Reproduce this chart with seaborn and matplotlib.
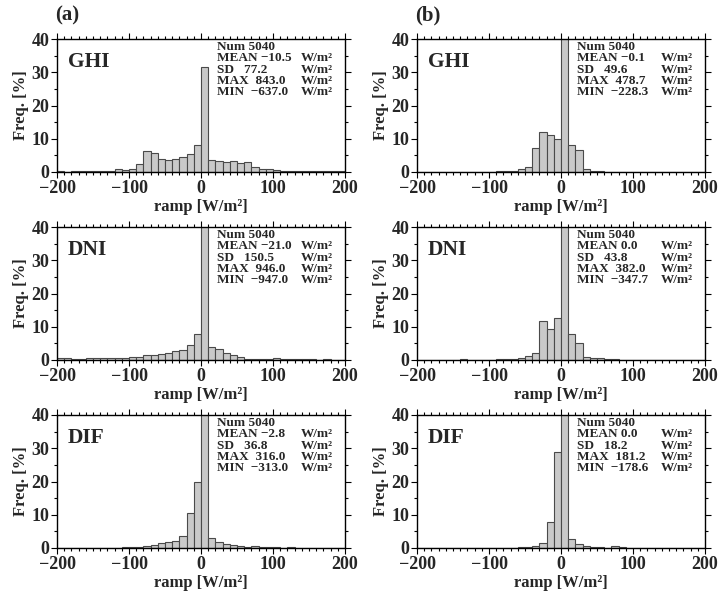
import numpy as np
import pandas as pd
import matplotlib
matplotlib.use("Agg")
import matplotlib.pyplot as plt
import seaborn as sns
from matplotlib.ticker import MultipleLocator

sns.set_theme(style="white")
plt.rcParams["font.family"] = ["Liberation Serif", "DejaVu Serif"]
plt.rcParams["font.weight"] = "bold"

# 10 W/m^2 bins from -200 to 200
bin_edges = list(range(-200, 201, 10))
bin_centers = [e + 5 for e in bin_edges[:-1]]

# Frequency [%] per bin, left to right
ghi_a = [0.4, 0.0, 0.3, 0.3, 0.3, 0.3, 0.3, 0.3, 0.8, 0.5,
         1.0, 2.3, 6.2, 5.6, 3.8, 3.5, 3.8, 4.4, 5.4, 8.0,
         31.7, 3.5, 3.3, 2.9, 3.2, 2.8, 2.9, 1.4, 0.8, 0.8,
         0.5, 0.3, 0.2, 0.2, 0.2, 0.2, 0.2, 0.2, 0.2, 0.2]
ghi_b = [0.0, 0.0, 0.0, 0.0, 0.0, 0.0, 0.0, 0.0, 0.0, 0.0,
         0.0, 0.3, 0.3, 0.3, 0.8, 1.5, 7.2, 11.9, 11.0, 10.0,
         40.4, 8.2, 6.6, 0.8, 0.4, 0.3, 0.0, 0.0, 0.0, 0.0,
         0.0, 0.0, 0.0, 0.0, 0.0, 0.0, 0.0, 0.0, 0.0, 0.0]
dni_a = [0.5, 0.5, 0.4, 0.3, 0.6, 0.6, 0.6, 0.7, 0.7, 0.7,
         0.8, 0.9, 1.4, 1.6, 1.8, 2.0, 2.7, 3.0, 4.4, 7.8,
         42.0, 3.9, 3.3, 2.2, 1.6, 1.0, 0.4, 0.3, 0.3, 0.3,
         0.5, 0.3, 0.3, 0.3, 0.3, 0.2, 0.0, 0.3, 0.0, 0.0]
dni_b = [0.0, 0.0, 0.0, 0.0, 0.0, 0.0, 0.4, 0.0, 0.0, 0.0,
         0.0, 0.2, 0.3, 0.4, 0.6, 1.1, 2.0, 11.7, 9.2, 12.5,
         46.6, 7.8, 5.0, 0.8, 0.5, 0.5, 0.2, 0.2, 0.0, 0.0,
         0.0, 0.0, 0.0, 0.0, 0.0, 0.0, 0.0, 0.0, 0.0, 0.0]
dif_a = [0.0, 0.0, 0.0, 0.0, 0.0, 0.0, 0.0, 0.0, 0.0, 0.2,
         0.4, 0.4, 0.6, 0.9, 1.5, 1.8, 2.1, 3.5, 10.4, 19.7,
         49.3, 3.1, 1.9, 1.2, 1.0, 0.5, 0.3, 0.5, 0.4, 0.3,
         0.2, 0.0, 0.3, 0.0, 0.0, 0.0, 0.0, 0.0, 0.0, 0.0]
dif_b = [0.0, 0.0, 0.0, 0.0, 0.0, 0.0, 0.0, 0.0, 0.0, 0.0,
         0.0, 0.0, 0.0, 0.0, 0.2, 0.2, 0.6, 1.5, 7.7, 28.8,
         55.4, 2.6, 1.1, 0.5, 0.3, 0.3, 0.0, 0.5, 0.3, 0.0,
         0.0, 0.0, 0.0, 0.0, 0.0, 0.0, 0.0, 0.0, 0.0, 0.0]

variables = ["GHI", "DNI", "DIF"]
panel_letters = ["(a)", "(b)"]
counts = ["5040", "5040"]

# Summary statistics: rows = variable, columns = panel
stat_mean = [["\u221210.5", "\u22120.1"], ["\u221221.0", "0.0"], ["\u22122.8", "0.0"]]
stat_sd = [["77.2", "49.6"], ["150.5", "43.8"], ["36.8", "18.2"]]
stat_max = [["843.0", "478.7"], ["946.0", "382.0"], ["316.0", "181.2"]]
stat_min = [["\u2212637.0", "\u2212228.3"], ["\u2212947.0", "\u2212347.7"], ["\u2212313.0", "\u2212178.6"]]

freqs = [[ghi_a, ghi_b], [dni_a, dni_b], [dif_a, dif_b]]

W, H = 719, 596
fig = plt.figure(figsize=(W / 100, H / 100), dpi=100)

col_left = [57, 417]
ax_w = 288
row_top = [39, 227, 415]
ax_h = 133

bar_face = "#c9c9c9"
bar_edge = "#4a4a4a"

for r, var in enumerate(variables):
    for c in range(2):
        ax = fig.add_axes([col_left[c] / W, 1 - (row_top[r] + ax_h) / H,
                           ax_w / W, ax_h / H])
        df = pd.DataFrame({"ramp": bin_centers, "freq": freqs[r][c]})
        sns.histplot(data=df, x="ramp", weights="freq", bins=bin_edges,
                     stat="count", color=bar_face, edgecolor=bar_edge,
                     linewidth=0.8, alpha=1.0, ax=ax)
        ax.set_xlim(-200, 200)
        ax.set_ylim(0, 40)
        ax.xaxis.set_major_locator(MultipleLocator(100))
        ax.xaxis.set_minor_locator(MultipleLocator(10))
        ax.yaxis.set_major_locator(MultipleLocator(10))
        ax.yaxis.set_minor_locator(MultipleLocator(5))
        ax.tick_params(which="both", direction="out", top=True, right=True,
                       bottom=True, left=True, color="black", width=0.8,
                       labelsize=13)
        ax.tick_params(axis="x", pad=2)
        ax.tick_params(axis="y", pad=1.5)
        ax.tick_params(which="major", length=4)
        ax.tick_params(which="minor", length=2.5)
        for lab in ax.get_xticklabels() + ax.get_yticklabels():
            lab.set_fontweight("bold")
        for sp in ax.spines.values():
            sp.set_visible(True)
            sp.set_color("black")
            sp.set_linewidth(1.0)
        ax.set_xlabel("ramp [W/m\u00b2]", fontsize=12, fontweight="bold", labelpad=1)
        ax.set_ylabel("Freq. [%]", fontsize=12, fontweight="bold", labelpad=2)

        ax.text(0.038, 0.83, var, transform=ax.transAxes, fontsize=15.5,
                fontweight="bold", va="center", ha="left")

        names = ["Num " + counts[c], "MEAN " + stat_mean[r][c],
                 "SD   " + stat_sd[r][c], "MAX  " + stat_max[r][c],
                 "MIN  " + stat_min[r][c]]
        ys = [0.94, 0.855, 0.77, 0.685, 0.60]
        for i, (txt, yy) in enumerate(zip(names, ys)):
            ax.text(0.556, yy, txt, transform=ax.transAxes, fontsize=9.5,
                    fontweight="bold", va="center", ha="left")
            if i > 0:
                ax.text(0.847, yy, "W/m\u00b2", transform=ax.transAxes,
                        fontsize=9.5, fontweight="bold", va="center", ha="left")

        if r == 0:
            ax.text(-0.005, 1.1, panel_letters[c], transform=ax.transAxes,
                    fontsize=15, fontweight="bold", va="bottom", ha="left")

fig.savefig("out.png", dpi=100)
